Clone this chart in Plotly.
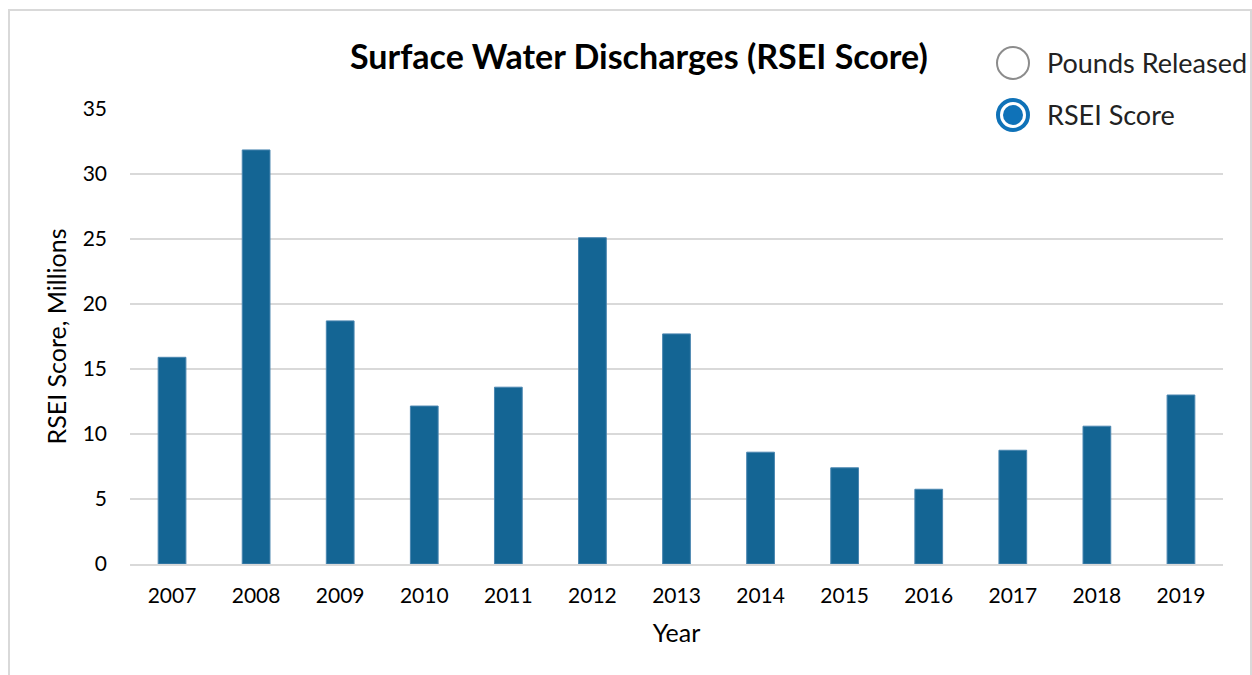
import plotly.graph_objects as go

years = ["2007", "2008", "2009", "2010", "2011", "2012", "2013",
         "2014", "2015", "2016", "2017", "2018", "2019"]
rsei_millions = [15.9, 31.85, 18.7, 12.15, 13.6, 25.1, 17.7,
                 8.6, 7.4, 5.75, 8.75, 10.6, 13.0]
y_ticks = [0, 5, 10, 15, 20, 25, 30, 35]
legend_labels = ["Pounds Released", "RSEI Score"]

FONT = "Lato"
W, H = 1252, 675

fig = go.Figure()
fig.add_trace(go.Bar(
    x=years, y=rsei_millions,
    marker=dict(color="#146594", line=dict(color="#4a86b0", width=1)),
    width=0.33, showlegend=False, hoverinfo="x+y",
))

fig.update_layout(
    width=W, height=H,
    paper_bgcolor="white", plot_bgcolor="white",
    margin=dict(l=130, r=29, t=109, b=111),
    font=dict(family=FONT, size=21, color="#000000"),
    bargap=0.67,
    xaxis=dict(
        type="category", showgrid=False, showline=True,
        linecolor="#d9d9d9", linewidth=2, ticks="", ticklabelstandoff=12,
        tickfont=dict(size=21, family=FONT),
        title=dict(text="Year", font=dict(size=25, family=FONT), standoff=18),
    ),
    yaxis=dict(
        range=[0, 35], tickvals=y_ticks, showgrid=True,
        gridcolor="#d9d9d9", gridwidth=1.5, zeroline=False,
        showline=False, ticks="", ticklabelstandoff=22,
        tickfont=dict(size=21, family=FONT),
        title=dict(text="RSEI Score, Millions", font=dict(size=25, family=FONT), standoff=8),
    ),
)

def px_x(px):
    return (px - 130) / 1093

def px_y(py):
    return (564 - py) / 455

# title
fig.add_annotation(
    text="<b>Surface Water Discharges (RSEI Score)</b>",
    xref="paper", yref="paper", x=px_x(639), y=px_y(56),
    xanchor="center", yanchor="middle", showarrow=False,
    font=dict(size=34, family=FONT, color="#000000"),
)

# outer frame
fig.add_shape(type="rect", xref="paper", yref="paper",
              x0=px_x(9), x1=px_x(1251), y0=px_y(700), y1=px_y(10),
              line=dict(color="#d9d9d9", width=2), fillcolor="rgba(0,0,0,0)", layer="below")

# legend radio buttons
cx = 1013
for i, lab in enumerate(legend_labels):
    cy = 63 + i * 52
    if i == 0:
        fig.add_shape(type="circle", xref="paper", yref="paper",
                      x0=px_x(cx - 16), x1=px_x(cx + 16), y0=px_y(cy + 16), y1=px_y(cy - 16),
                      line=dict(color="#8c8c8c", width=2), fillcolor="white")
    else:
        fig.add_shape(type="circle", xref="paper", yref="paper",
                      x0=px_x(cx - 15), x1=px_x(cx + 15), y0=px_y(cy + 15), y1=px_y(cy - 15),
                      line=dict(color="#0f72b8", width=4), fillcolor="white")
        fig.add_shape(type="circle", xref="paper", yref="paper",
                      x0=px_x(cx - 10), x1=px_x(cx + 10), y0=px_y(cy + 10), y1=px_y(cy - 10),
                      line=dict(color="#0f72b8", width=0), fillcolor="#0f72b8")
    fig.add_annotation(text=lab, xref="paper", yref="paper",
                       x=px_x(1045), y=px_y(cy), xanchor="left", yanchor="middle",
                       showarrow=False, font=dict(size=27, family=FONT, color="#222222"))

fig.write_html("out.html", config={"displayModeBar": False},
               post_script="document.body.style.margin='0';document.body.style.overflow='hidden';")
